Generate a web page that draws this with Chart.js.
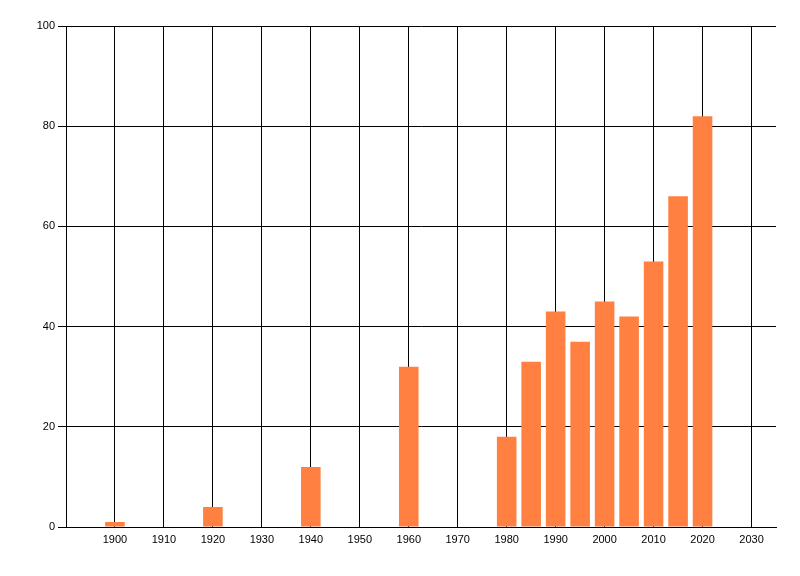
<!DOCTYPE html>
<html>
<head>
<meta charset="utf-8">
<title>Bar chart</title>
<script src="https://cdn.jsdelivr.net/npm/chart.js@4"></script>
<style>
    html, body { margin: 0; padding: 0; background: #fff; }
    #chart { display: block; }
</style>
</head>
<body>
<canvas id="chart" width="800" height="576"></canvas>
<script>
// --- Data ---
const years = [1900, 1920, 1940, 1960, 1980, 1985, 1990, 1995, 2000, 2005, 2010, 2015, 2020];
const counts = [1, 4, 12, 32, 18, 33, 43, 37, 45, 42, 53, 66, 82];
const xTickYears = [1900, 1910, 1920, 1930, 1940, 1950, 1960, 1970, 1980, 1990, 2000, 2010, 2020, 2030];
const yTicks = [0, 20, 40, 60, 80, 100];

const barColor = 'rgb(255, 128, 64)';
const lineColor = '#000';
const labelFont = { family: '"Liberation Sans", Arial, sans-serif', size: 11 };

const ctx = document.getElementById('chart').getContext('2d');

new Chart(ctx, {
    type: 'bar',
    data: {
        datasets: [{
            data: years.map((y, i) => ({ x: y, y: counts[i] })),
            backgroundColor: barColor,
            borderWidth: 0,
            barPercentage: 0.8,
            categoryPercentage: 1.0
        }]
    },
    options: {
        responsive: false,
        animation: false,
        devicePixelRatio: 1,
        layout: { padding: { top: 26, right: 24, left: 0, bottom: 0 } },
        plugins: { legend: { display: false }, tooltip: { enabled: false } },
        scales: {
            x: {
                type: 'linear',
                offset: false,
                min: 1890, max: 2035,
                afterBuildTicks: scale => { scale.ticks = xTickYears.map(v => ({ value: v })); },
                afterFit: scale => { scale.height = 49; },
                grid: { color: lineColor, lineWidth: 1, drawTicks: false, offset: false },
                border: { color: lineColor, width: 1 },
                ticks: { color: '#000', font: labelFont, padding: 6, maxRotation: 0, autoSkip: false,
                         callback: v => String(v) }
            },
            y: {
                min: 0, max: 100,
                afterBuildTicks: scale => { scale.ticks = yTicks.map(v => ({ value: v })); },
                afterFit: scale => { scale.width = 66; },
                grid: { color: lineColor, lineWidth: 1, tickLength: 8 },
                border: { color: lineColor, width: 1 },
                ticks: { color: '#000', font: labelFont, padding: 3 }
            }
        }
    }
});
</script>
</body>
</html>
